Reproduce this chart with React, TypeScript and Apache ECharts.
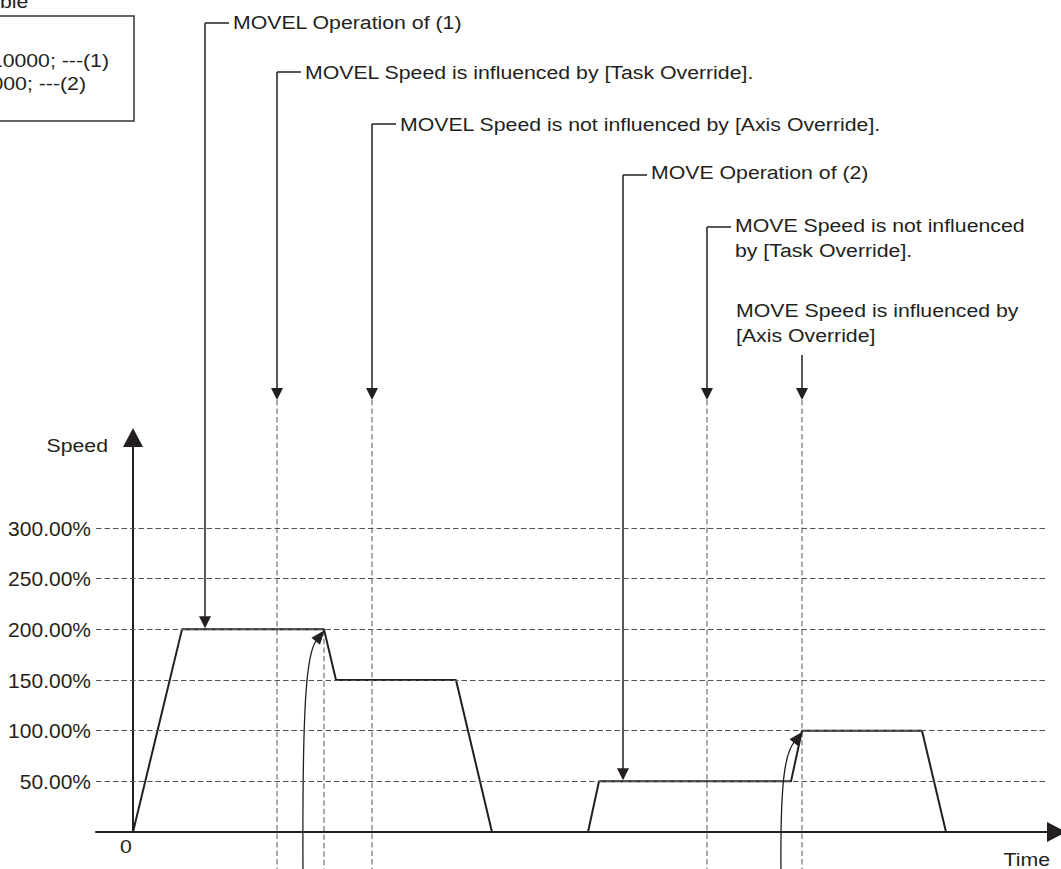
import React, { useEffect, useRef } from 'react';
import * as echarts from 'echarts';

// ---- data ----
const yTicks = [50, 100, 150, 200, 250, 300];
const yTickLabels = ['50.00%', '100.00%', '150.00%', '200.00%', '250.00%', '300.00%'];
const movelTime = [0, 49, 191, 203, 323, 359];
const movelSpeed = [0, 200, 200, 150, 150, 0];
const moveTime = [455, 466, 658, 669, 789, 813];
const moveSpeed = [0, 50, 50, 100, 100, 0];
const guideTimes = [144, 191, 239, 574, 669];
const guideFromSpeed = [null, 200, null, null, null];
const noteTexts = [
  'MOVEL Operation of (1)',
  'MOVEL Speed is influenced by [Task Override].',
  'MOVEL Speed is not influenced by [Axis Override].',
  'MOVE Operation of (2)',
  'MOVE Speed is not influenced\nby [Task Override].',
  'MOVE Speed is influenced by\n[Axis Override]',
];
const noteTimes = [72, 144, 239, 490, 574, 669];
const noteTargets = [200, null, null, 50, null, null];
const curveTargets = [[191, 200], [669, 100]];
const curveStarts = [170, 648];
const sampleLines = ['10000; ---(1)', '000; ---(2)'];

const FONT = '"Liberation Sans", Arial, Helvetica, sans-serif';
const INK = '#231f20';
const GRID = '#555555';
const FS = 19;
const SX = 1.12;

function arrowHead(tx: number, ty: number, dx: number, dy: number, len: number, wid: number, fill: string) {
  const l = Math.hypot(dx, dy);
  const ux = dx / l, uy = dy / l;
  const bx = tx - ux * len, by = ty - uy * len;
  const nx = -uy, ny = ux;
  return {
    type: 'polygon',
    shape: { points: [[tx, ty], [bx + nx * wid / 2, by + ny * wid / 2], [bx - nx * wid / 2, by - ny * wid / 2]] },
    style: { fill },
    silent: true,
  };
}

export default function App() {
  const ref = useRef<HTMLDivElement>(null);
  useEffect(() => {
    if (!ref.current) return;
    const chart = echarts.init(ref.current, null, { renderer: 'svg' });
    const option: any = {
      animation: false,
      grid: { left: 96, right: 14, top: 447, bottom: 37, outerBoundsMode: 'none', containLabel: false },
      xAxis: {
        type: 'value', min: -37, max: 914,
        axisLine: { show: true, onZero: true, symbol: ['none', 'triangle'], symbolSize: [20, 19], symbolOffset: [0, 9.5], lineStyle: { color: INK, width: 2 } },
        axisTick: { show: false }, axisLabel: { show: false }, splitLine: { show: false },
      },
      yAxis: {
        type: 'value', min: 0, max: 380, interval: 50,
        axisLine: { show: true, onZero: true, symbol: ['none', 'triangle'], symbolSize: [20, 19], symbolOffset: [0, 9.5], lineStyle: { color: INK, width: 2 } },
        axisTick: { show: false }, splitLine: { show: false },
        axisLabel: {
          margin: 5, color: INK, fontSize: 21, fontFamily: FONT,
          formatter: (v: number) => { const i = yTicks.indexOf(v); return i >= 0 ? yTickLabels[i] : ''; },
        },
      },
      series: [
        {
          type: 'line', name: 'MOVEL', symbol: 'none', clip: false,
          data: movelTime.map((t, i) => [t, movelSpeed[i]]),
          lineStyle: { color: INK, width: 2 },
          markLine: {
            silent: true, symbol: ['none', 'none'], label: { show: false },
            lineStyle: { color: GRID, width: 1, type: [5.5, 3] },
            data: yTicks.map(v => ({ yAxis: v })),
          },
          z: 3,
        },
        {
          type: 'line', name: 'MOVE', symbol: 'none', clip: false,
          data: moveTime.map((t, i) => [t, moveSpeed[i]]),
          lineStyle: { color: INK, width: 2 }, z: 3,
        },
      ],
    };
    chart.setOption(option);

    const px = (t: number, v: number) => chart.convertToPixel({ xAxisIndex: 0, yAxisIndex: 0 }, [t, v]) as number[];
    const g: any[] = [];
    const txt = (x: number, y: number, text: string, align = 'left', vAlign = 'middle') => ({
      type: 'text', x, y, silent: true, scaleX: SX,
      style: { text, fill: INK, fontSize: FS, fontFamily: FONT, align, textAlign: align, verticalAlign: vAlign, textVerticalAlign: vAlign, lineHeight: 25 },
    });
    const line = (x1: number, y1: number, x2: number, y2: number, dash?: number[], color = INK, w = 1.5) => ({
      type: 'line', silent: true, shape: { x1, y1, x2, y2 },
      style: { stroke: color, lineWidth: w, lineDash: dash || null },
    });

    // vertical guide lines
    guideTimes.forEach((t, i) => {
      const from = guideFromSpeed[i];
      const p = px(t, from ?? 0);
      const y1 = from != null ? p[1] + 1 : 400;
      g.push(line(p[0], y1, p[0], 869, [5.5, 3], GRID, 1));
    });

    // annotations
    const tops = [23, 72, 124, 175, 227, 355];
    const textY = [22, 72, 124, 172, 213, 298];
    noteTexts.forEach((text, i) => {
      const p = px(noteTimes[i], noteTargets[i] ?? 0);
      const x = p[0];
      const tipY = noteTargets[i] != null ? p[1] - 1 : 400;
      const multi = text.indexOf('\n') >= 0;
      if (i < 5) {
        g.push(line(x, tops[i], x + 24, tops[i]));
        g.push(line(x, tops[i], x, tipY - 10));
        g.push(txt(x + 28, textY[i], text, 'left', multi ? 'top' : 'middle'));
      } else {
        g.push(line(x, tops[i], x, tipY - 10));
        g.push(txt(736, textY[i], text, 'left', 'top'));
      }
      g.push(arrowHead(x, tipY, 0, 1, 12, 12, INK));
    });

    // curved arrows
    curveTargets.forEach((tg, i) => {
      const tp = px(tg[0], tg[1]);
      const tx = tp[0] + 0.5, ty = tp[1] + 1;
      const sx = px(curveStarts[i], 0)[0];
      const p3x = tx - 8, p3y = ty + 10;
      g.push({
        type: 'bezierCurve', silent: true,
        shape: { x1: sx, y1: 875, x2: p3x, y2: p3y, cpx1: sx - 1, cpy1: ty + (i === 0 ? 60 : 45), cpx2: tx - 17, cpy2: ty + 21 },
        style: { stroke: INK, lineWidth: 1.3, fill: 'none' },
      });
      g.push(arrowHead(tx, ty, 8, -10, 14, 11, INK));
    });

    // origin, axis names
    g.push(txt(126, 846, '0', 'center'));
    g.push(txt(1050, 859, 'Time', 'right'));
    g.push(txt(108, 445, 'Speed', 'right'));

    // sample program box (cut off at left edge)
    g.push({ type: 'rect', silent: true, shape: { x: -10, y: 16, width: 144, height: 105 }, style: { fill: 'none', stroke: '#333333', lineWidth: 1.5 } });
    g.push(txt(0, 1, 'ble', 'left'));
    g.push(txt(109, 60, sampleLines[0], 'right'));
    g.push(txt(86, 83, sampleLines[1], 'right'));

    chart.setOption({ graphic: g });
    return () => chart.dispose();
  }, []);
  return <div ref={ref} style={{ position: 'absolute', left: 0, top: 0, width: 1061, height: 869, background: '#fff' }} />;
}
